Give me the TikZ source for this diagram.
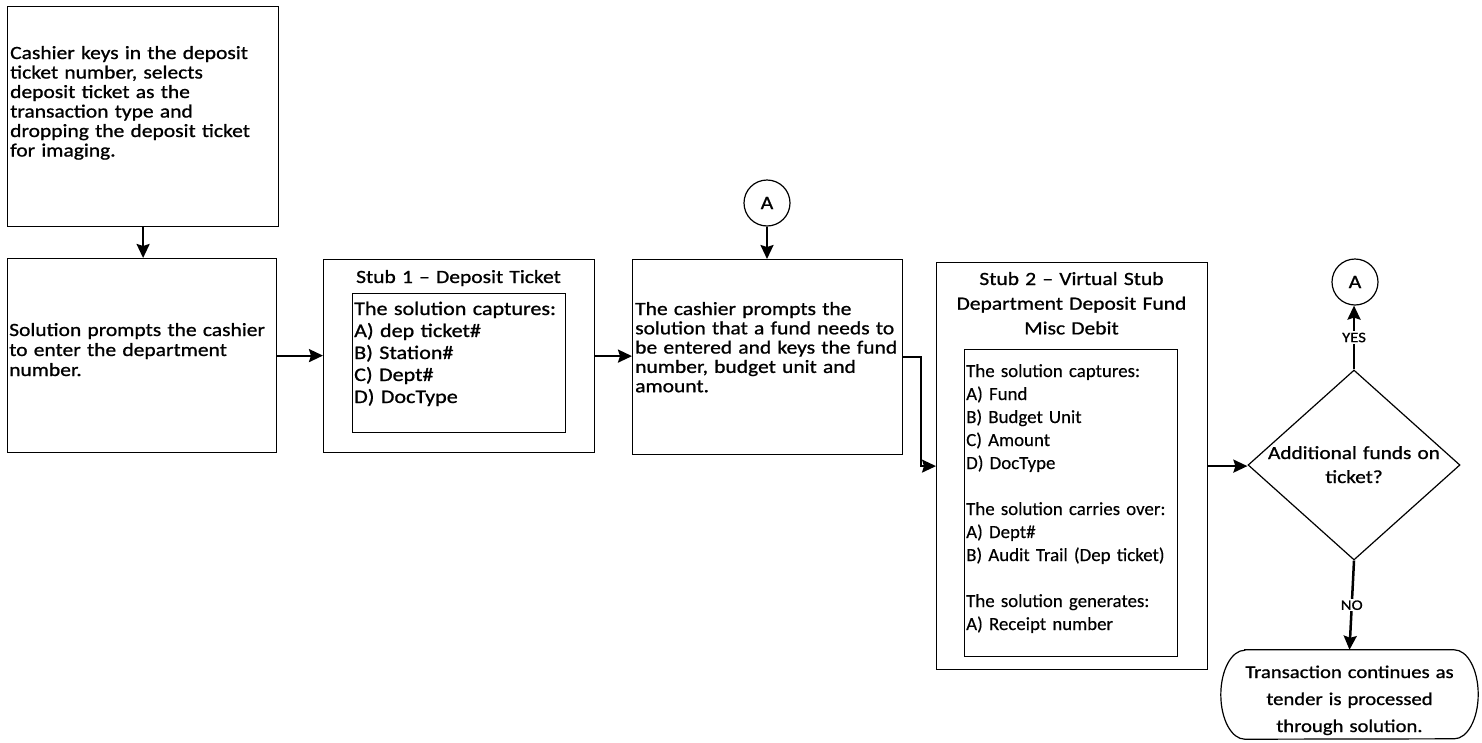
\documentclass[tikz,border=0pt]{standalone}
\usepackage{fontspec}
\setmainfont{Carlito}[FakeStretch=1.15, FakeBold=0.9]
\newfontfamily\stubfont{Carlito}[FakeStretch=1.02, FakeBold=0.3]
\usetikzlibrary{arrows.meta,shapes.geometric,calc}

\tikzset{
  box/.style={draw, line width=1.2pt, inner sep=0, anchor=north west},
  txt/.style={inner sep=0, anchor=base west, align=left},
  ctxt/.style={inner sep=0, anchor=base, align=center},
  body/.style={font=\fontsize{18.7}{19.5}\selectfont},
  conn/.style={line width=2.2pt, -{Stealth[length=14pt,width=13pt,inset=2pt]}},
  link/.style={draw, circle, line width=1.2pt, minimum size=46pt, inner sep=0,
               font=\fontsize{19}{19}\selectfont},
  tag/.style={fill=white, inner sep=1.5pt, font=\fontsize{14.5}{15}\selectfont},
}

\begin{document}
\begin{tikzpicture}[x=1pt,y=-1pt]
  \path[use as bounding box, fill=white] (0,0) rectangle (1482,742);

  % process boxes
  \node[box, minimum width=271pt, minimum height=220pt] (b1) at (7,6) {};
  \node[txt, body, text width=266pt] (t1) at (10,59)
    {Cashier keys in the deposit\\ticket number, selects\\deposit ticket as the\\transaction type and\\dropping the deposit ticket\\for imaging.};

  \node[box, minimum width=269pt, minimum height=194pt] (b2) at (7,258) {};
  \node[txt, body, font=\fontsize{18.7}{20}\selectfont, text width=265pt] (t2) at (9,336)
    {Solution prompts the cashier\\to enter the department\\number.};

  % stub 1
  \node[box, minimum width=271pt, minimum height=193pt] (b3) at (323,259) {};
  \node[ctxt, body, text width=265pt] (t3h) at (458.5,283) {Stub 1 -- Deposit Ticket};
  \node[box, minimum width=213pt, minimum height=139pt] (b3i) at (352,293) {};
  \node[txt, font=\fontsize{19.2}{22}\selectfont, text width=208pt] (t3) at (354,315)
    {The solution captures:\\A) dep ticket\#\\B) Station\#\\C) Dept\#\\D) DocType};

  % fund entry
  \node[box, minimum width=270pt, minimum height=195pt] (b4) at (632,259) {};
  \node[txt, body, font=\fontsize{18.7}{19.3}\selectfont, text width=266pt] (t4) at (635,315)
    {The cashier prompts the\\solution that a fund needs to\\be entered and keys the fund\\number, budget unit and\\amount.};
  \node[link] (cA1) at (767,203) {A};

  % stub 2
  \node[box, minimum width=271pt, minimum height=407pt] (b5) at (936,262) {};
  \node[ctxt, body, font=\fontsize{18.7}{24.7}\selectfont, text width=265pt] (t5h) at (1071.5,285)
    {Stub 2 -- Virtual Stub\\Department Deposit Fund\\Misc Debit};
  \node[box, minimum width=213pt, minimum height=307pt] (b5i) at (964,349) {};
  \node[txt, font=\stubfont\fontsize{18.5}{23}\selectfont, text width=210pt] (t5) at (966,377)
    {The solution captures:\\A) Fund\\B) Budget Unit\\C) Amount\\D) DocType\\[23pt]
     The solution carries over:\\A) Dept\#\\B) Audit Trail (Dep ticket)\\[23pt]
     The solution generates:\\A) Receipt number};

  % decision
  \node[draw, diamond, line width=1.2pt, minimum width=212pt, minimum height=190pt,
        inner sep=0] (dia) at (1354,465) {};
  \node[ctxt, font=\fontsize{18.5}{24}\selectfont, text width=190pt] (tdia) at (1354,459)
    {Additional funds on\\ticket?};
  \node[link] (cA2) at (1355,282) {A};

  % terminator
  \node[minimum width=257pt, minimum height=89pt, inner sep=0] (term) at (1349.5,694.5) {};
  \draw[line width=1.2pt]
    ([xshift=24pt]term.north west) -- ([xshift=-24pt]term.north east)
    arc[start angle=90, end angle=-90, x radius=24pt, y radius=44.5pt]
    -- ([xshift=24pt]term.south west)
    arc[start angle=270, end angle=90, x radius=24pt, y radius=44.5pt] -- cycle;
  \node[ctxt, font=\fontsize{18}{27}\selectfont, text width=250pt] (tterm) at (1349.5,678)
    {Transaction continues as\\tender is processed\\through solution.};

  % connectors
  \draw[conn] (b1.south) -- (b1.south |- b2.north);
  \draw[conn] (b2.east) -- (b2.east -| b3.west);
  \draw[conn] (b3.east) -- (b3.east -| b4.west);
  \draw[conn] (cA1.south) -- (cA1.south |- b4.north);
  \draw[conn, line width=1.7pt] (b4.east) -- ++(18,0) |- (b5.west);
  \draw[conn] (b5.east) -- (b5.east -| dia.west);
  \draw[conn, line width=2.5pt] (dia.north) -- node[tag] (yes) {YES} (dia.north |- cA2.south);
  \draw[conn, line width=2.5pt] (dia.south) -- node[tag] (no) {NO} (term.north);
\end{tikzpicture}
\end{document}
